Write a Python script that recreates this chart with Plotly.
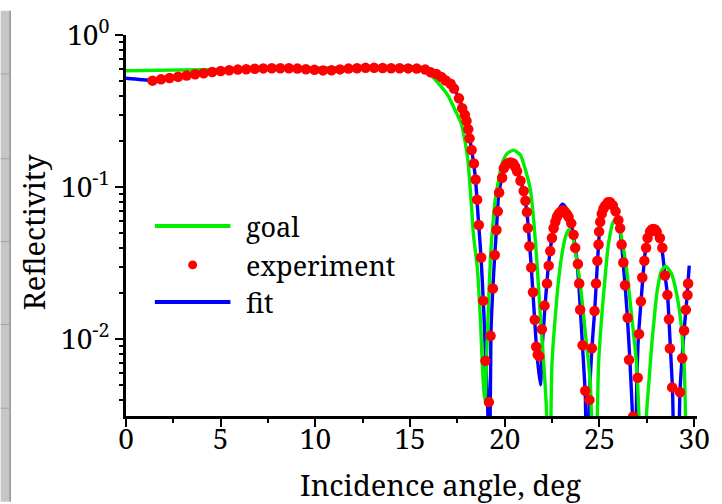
import plotly.graph_objects as go

# ---------------- data ----------------
# measured reflectivity (red dots)
exp_angle = [
    1.40, 1.85, 2.30, 2.75, 3.20, 3.65, 4.10, 4.55, 5.00, 5.45, 5.90, 6.35, 6.80,
    7.25, 7.70, 8.15, 8.60, 9.05, 9.50, 9.95, 10.40, 10.85, 11.30, 11.75, 12.20,
    12.65, 13.10, 13.55, 14.00, 14.45, 14.90, 15.35, 15.80, 16.09, 16.39, 16.65,
    16.88, 17.14, 17.32, 17.58, 17.75, 17.89, 17.98, 18.07, 18.14, 18.25, 18.37,
    18.46, 18.54, 18.63, 18.75, 18.86, 18.98, 19.16, 19.25, 19.37, 19.47, 19.56,
    19.63, 19.70, 19.86, 19.95, 20.08, 20.20, 20.32, 20.45, 20.55, 20.65, 20.83,
    21.00, 21.09, 21.17, 21.22, 21.30, 21.40, 21.49, 21.58, 21.66, 21.74, 21.82,
    21.96, 22.10, 22.23, 22.32, 22.40, 22.49, 22.58, 22.67, 22.75, 22.84, 22.93,
    23.02, 23.10, 23.19, 23.28, 23.37, 23.51, 23.63, 23.72, 23.86, 23.93, 23.98,
    24.11, 24.25, 24.47, 24.60, 24.74, 24.82, 24.89, 24.95, 24.98, 25.04, 25.12,
    25.21, 25.30, 25.45, 25.56, 25.70, 25.85, 26.00, 26.09, 26.17, 26.26, 26.35,
    26.49, 26.56, 26.78, 27.02, 27.09, 27.19, 27.26, 27.37, 27.46, 27.54, 27.67,
    27.76, 27.84, 27.93, 28.02, 28.19, 28.32, 28.46, 28.59, 28.67, 28.72, 28.84,
    29.25, 29.37, 29.47, 29.56, 29.65, 29.68,
]
exp_refl = [
    0.501, 0.511, 0.521, 0.531, 0.542, 0.552, 0.561, 0.571, 0.579, 0.586, 0.592,
    0.596, 0.600, 0.603, 0.605, 0.605, 0.604, 0.601, 0.596, 0.590, 0.585, 0.587,
    0.594, 0.601, 0.605, 0.608, 0.608, 0.607, 0.605, 0.604, 0.603, 0.601, 0.592,
    0.568, 0.555, 0.530, 0.502, 0.478, 0.444, 0.383, 0.330, 0.299, 0.272, 0.240,
    0.209, 0.175, 0.143, 0.112, 0.0826, 0.0562, 0.0344, 0.0179, 0.0072, 0.00385,
    0.0105, 0.0215, 0.0357, 0.0522, 0.0692, 0.092, 0.115, 0.133, 0.141, 0.144,
    0.145, 0.143, 0.136, 0.127, 0.110, 0.0942, 0.0813, 0.0684, 0.0537, 0.0408,
    0.0296, 0.0203, 0.0134, 0.0089, 0.0079, 0.0077, 0.0116, 0.0166, 0.0232,
    0.0304, 0.0379, 0.0462, 0.0536, 0.0590, 0.0635, 0.0665, 0.0684, 0.0698,
    0.0702, 0.0684, 0.0662, 0.0635, 0.0577, 0.0485, 0.0398, 0.0312, 0.0232,
    0.0156, 0.0091, 0.00457, 0.00398, 0.0087, 0.0153, 0.0232, 0.0327, 0.0419,
    0.0509, 0.0590, 0.0668, 0.0720, 0.0755, 0.0794, 0.0794, 0.0759, 0.0692,
    0.0605, 0.0536, 0.0419, 0.0319, 0.0226, 0.0138, 0.0073, 0.0031, 0.00557,
    0.0108, 0.0177, 0.0254, 0.0327, 0.0398, 0.0462, 0.0509, 0.0525, 0.0530,
    0.0525, 0.0509, 0.0462, 0.0398, 0.0262, 0.0195, 0.0135, 0.00867, 0.00481,
    0.00447, 0.00748, 0.01138, 0.0156, 0.0195, 0.0232,
]

# fitted model (blue line)
fit_angle = [
    0.00, 1.40, 2.30, 3.20, 4.10, 5.00, 5.90, 6.80, 7.70, 8.60, 9.50, 10.40,
    11.30, 12.20, 13.10, 14.00, 14.90, 15.60, 16.10, 16.60, 17.00, 17.30, 17.60,
    17.90, 18.10, 18.30, 18.45, 18.60, 18.75, 18.90, 19.00, 19.10, 19.19, 19.27,
    19.37, 19.47, 19.56, 19.68, 19.86, 20.00, 20.20, 20.40, 20.60, 20.80, 21.00,
    21.20, 21.40, 21.55, 21.70, 21.88, 22.00, 22.15, 22.30, 22.50, 22.70, 22.90,
    23.05, 23.20, 23.40, 23.60, 23.80, 23.95, 24.10, 24.25, 24.36, 24.47, 24.60,
    24.75, 24.90, 25.05, 25.20, 25.40, 25.60, 25.80, 26.00, 26.15, 26.30, 26.45,
    26.60, 26.75, 26.86, 26.97, 27.05, 27.20, 27.40, 27.60, 27.85, 28.05, 28.25,
    28.45, 28.60, 28.75, 28.86, 29.06, 29.25, 29.35, 29.47, 29.60, 29.74,
]
fit_refl = [
    0.520, 0.505, 0.521, 0.542, 0.561, 0.579, 0.592, 0.600, 0.605, 0.604, 0.596,
    0.586, 0.594, 0.605, 0.608, 0.605, 0.603, 0.598, 0.570, 0.532, 0.490, 0.447,
    0.380, 0.295, 0.225, 0.160, 0.114, 0.062, 0.034, 0.0145, 0.0068, 0.0035,
    0.0009, 0.0110, 0.0215, 0.0357, 0.0522, 0.0900, 0.117, 0.134, 0.144, 0.146,
    0.133, 0.112, 0.094, 0.062, 0.0296, 0.0152, 0.0080, 0.0050, 0.0098, 0.0180,
    0.0300, 0.0470, 0.0620, 0.0730, 0.0770, 0.0740, 0.0640, 0.0500, 0.0340,
    0.0190, 0.0092, 0.0043, 0.0007, 0.0040, 0.0087, 0.0155, 0.0330, 0.0600,
    0.0730, 0.0795, 0.0800, 0.0730, 0.0610, 0.0440, 0.0270, 0.0155, 0.0075,
    0.0030, 0.0007, 0.0050, 0.0100, 0.0180, 0.0360, 0.0490, 0.0540, 0.0500,
    0.0430, 0.0270, 0.0190, 0.0085, 0.0045, 0.0002, 0.0045, 0.0072, 0.0114,
    0.0175, 0.0304,
]

# design target (green line)
goal_angle = [
    0.00, 5.00, 10.00, 15.00, 15.60, 16.00, 16.50, 17.00, 17.40, 17.70, 17.90,
    18.05, 18.15, 18.25, 18.35, 18.55, 18.72, 18.82, 18.90, 18.95, 19.05, 19.15,
    19.25, 19.35, 19.50, 19.68, 19.86, 20.12, 20.47, 20.83, 21.09, 21.35, 21.53,
    21.70, 21.88, 22.05, 22.20, 22.35, 22.49, 22.67, 22.84, 23.02, 23.19, 23.37,
    23.55, 23.72, 23.98, 24.25, 24.51, 24.76, 24.95, 25.12, 25.30, 25.47, 25.73,
    25.91, 26.17, 26.44, 26.70, 26.96, 27.10, 27.28, 27.45, 27.60, 27.75, 27.90,
    28.05, 28.28, 28.50, 28.80, 29.07, 29.30, 29.47, 29.65,
]
goal_refl = [
    0.582, 0.594, 0.607, 0.618, 0.612, 0.560, 0.480, 0.400, 0.316, 0.262, 0.200,
    0.151, 0.107, 0.0724, 0.0479, 0.0295, 0.0129, 0.0066, 0.0045, 0.0040, 0.0082,
    0.0178, 0.0355, 0.0525, 0.083, 0.112, 0.143, 0.166, 0.175, 0.162, 0.130,
    0.0966, 0.0600, 0.0316, 0.0141, 0.0071, 0.0035, 0.0006, 0.0068, 0.0142,
    0.0244, 0.0361, 0.0462, 0.0522, 0.0501, 0.0379, 0.0232, 0.0111, 0.0053,
    0.0006, 0.0068, 0.0142, 0.0257, 0.0419, 0.0590, 0.0621, 0.0462, 0.0282,
    0.0142, 0.0068, 0.0028, 0.0006, 0.0028, 0.0050, 0.0089, 0.0141, 0.0209,
    0.0282, 0.0302, 0.0269, 0.0200, 0.0129, 0.0068, 0.0006,
]

x_ticks = [0, 5, 10, 15, 20, 25, 30]
y_ticks = [1, 0.1, 0.01]
y_ticktext = ["10<sup>0</sup>", "10<sup>-1</sup>", "10<sup>-2</sup>"]
legend_labels = ["goal", "experiment", "fit"]

# ---------------- figure geometry ----------------
W, H = 722, 504
ML, MR, MT, MB = 126, 22, 25, 88
PW, PH = W - ML - MR, H - MT - MB

FONT = "Noto Serif"
GREEN, RED, BLUE = "#00ee00", "#ff0000", "#0000ff"


def px(xp):
    """page pixel x -> paper coordinate"""
    return (xp - ML) / PW


def py(yp):
    """page pixel y -> paper coordinate"""
    return (H - MB - yp) / PH


fig = go.Figure()

fig.add_trace(go.Scatter(x=fit_angle, y=fit_refl, mode="lines",
                         line=dict(color=BLUE, width=3.4, shape="spline", smoothing=0.6),
                         name=legend_labels[2]))
fig.add_trace(go.Scatter(x=goal_angle, y=goal_refl, mode="lines",
                         line=dict(color=GREEN, width=3.4, shape="spline", smoothing=0.6),
                         name=legend_labels[0]))
fig.add_trace(go.Scatter(x=exp_angle, y=exp_refl, mode="markers",
                         marker=dict(color=RED, size=10.5, line=dict(width=0)),
                         name=legend_labels[1]))

axis_font = dict(family=FONT, size=28, color="black")

fig.update_xaxes(
    range=[0, 30.15], tickmode="array", tickvals=x_ticks,
    ticks="outside", ticklen=8, tickwidth=2, tickcolor="black",
    ticklabelstandoff=-12,
    showline=True, linewidth=3, linecolor="black", mirror=False,
    showgrid=False, zeroline=False, tickfont=axis_font,
    minor=dict(tickmode="array", tickvals=[v + 2.5 for v in x_ticks[:-1]],
               ticks="outside", ticklen=4, tickwidth=2, tickcolor="black",
               showgrid=False),
)

y_minor = [m * d for d in (0.1, 0.01, 0.001) for m in range(2, 10)]
fig.update_yaxes(
    type="log", range=[-2.506, 0], tickmode="array",
    tickvals=y_ticks, ticktext=y_ticktext,
    ticks="outside", ticklen=8, tickwidth=2, tickcolor="black",
    showline=True, linewidth=3, linecolor="black", mirror=False,
    showgrid=False, zeroline=False, tickfont=axis_font,
    minor=dict(tickmode="array", tickvals=y_minor,
               ticks="outside", ticklen=4, tickwidth=2, tickcolor="black",
               showgrid=False),
)

shapes = []
annotations = []

# grey window strip along the left edge
shapes.append(dict(type="rect", xref="paper", yref="paper",
                   x0=px(0), x1=px(9), y0=py(H), y1=py(0),
                   fillcolor="#c6c6c6", line=dict(width=0), layer="below"))
shapes.append(dict(type="line", xref="paper", yref="paper",
                   x0=px(9.5), x1=px(9.5), y0=py(H), y1=py(0),
                   line=dict(color="#8c8c8c", width=1.5)))
for yy in (65, 152, 237, 322, 408):
    shapes.append(dict(type="line", xref="paper", yref="paper",
                       x0=px(0), x1=px(9), y0=py(yy), y1=py(yy),
                       line=dict(color="#a2a2a2", width=1)))

# hand-drawn legend
leg_x0, leg_x1, leg_text_x = 155, 231, 245
leg_rows = [221, 261, 299]
shapes.append(dict(type="line", xref="paper", yref="paper",
                   x0=px(leg_x0), x1=px(leg_x1), y0=py(leg_rows[0]), y1=py(leg_rows[0]),
                   line=dict(color=GREEN, width=4)))
r = 4.5
cx = 193
shapes.append(dict(type="circle", xref="paper", yref="paper",
                   x0=px(cx - r), x1=px(cx + r),
                   y0=py(leg_rows[1] + r), y1=py(leg_rows[1] - r),
                   fillcolor=RED, line=dict(width=0)))
shapes.append(dict(type="line", xref="paper", yref="paper",
                   x0=px(leg_x0), x1=px(leg_x1), y0=py(leg_rows[2]), y1=py(leg_rows[2]),
                   line=dict(color=BLUE, width=4)))
for label, yy in zip(legend_labels, leg_rows):
    annotations.append(dict(text=label, xref="paper", yref="paper",
                            x=px(leg_text_x), y=py(yy + 1),
                            xanchor="left", yanchor="middle", showarrow=False,
                            font=dict(family=FONT, size=27, color="black")))

# axis titles
title_font = dict(family=FONT, size=29, color="black")
annotations.append(dict(text="Incidence angle, deg", xref="paper", yref="paper",
                        x=px(442), y=py(486), xanchor="center", yanchor="middle",
                        showarrow=False, font=title_font))
annotations.append(dict(text="Reflectivity", xref="paper", yref="paper",
                        x=px(33), y=py(227), xanchor="center", yanchor="middle",
                        textangle=-90, showarrow=False, font=title_font))

fig.update_layout(
    width=W, height=H,
    margin=dict(l=ML, r=MR, t=MT, b=MB),
    paper_bgcolor="white", plot_bgcolor="white",
    showlegend=False,
    shapes=shapes, annotations=annotations,
    font=dict(family=FONT, color="black"),
)

fig.write_html("out.html")
